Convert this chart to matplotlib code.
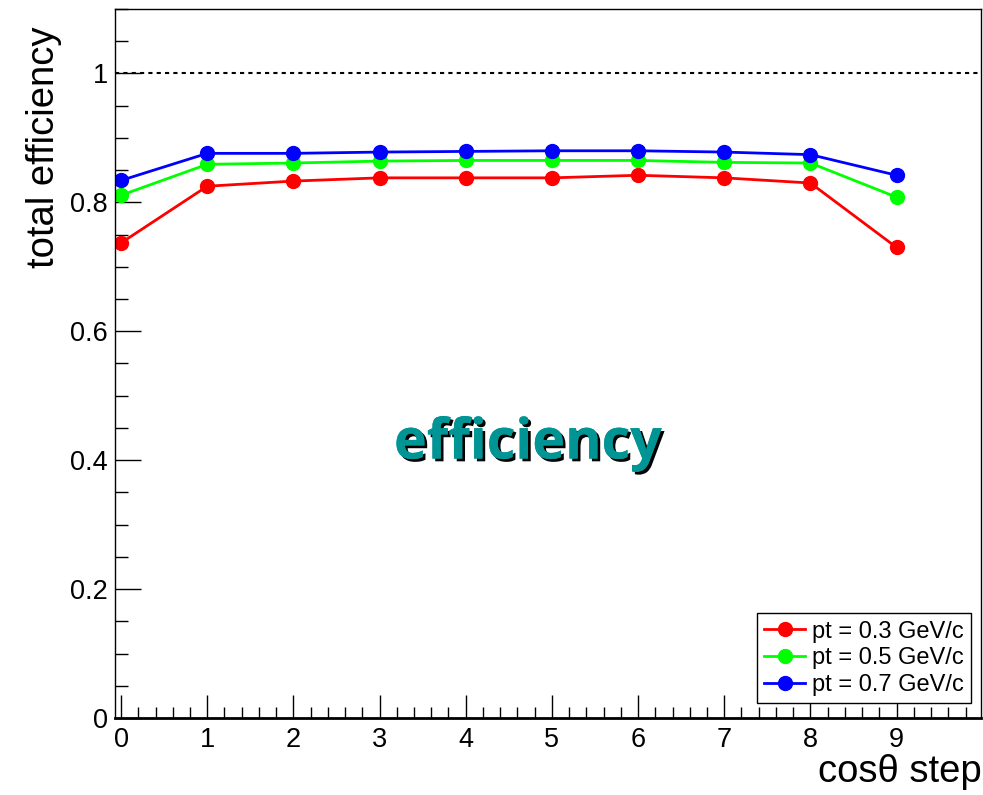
import matplotlib
matplotlib.use('Agg')
import matplotlib.pyplot as plt
import matplotlib.patheffects as pe
from matplotlib.ticker import MultipleLocator

plt.rcParams['font.family'] = ['Liberation Sans', 'DejaVu Sans']

steps = [0, 1, 2, 3, 4, 5, 6, 7, 8, 9]
eff_pt03 = [0.737, 0.825, 0.833, 0.838, 0.838, 0.838, 0.842, 0.838, 0.830, 0.730]
eff_pt05 = [0.811, 0.859, 0.861, 0.864, 0.865, 0.865, 0.865, 0.862, 0.861, 0.808]
eff_pt07 = [0.834, 0.876, 0.876, 0.878, 0.879, 0.880, 0.880, 0.878, 0.874, 0.842]
labels = ['pt = 0.3 GeV/c', 'pt = 0.5 GeV/c', 'pt = 0.7 GeV/c']
colors = ['#ff0000', '#00ff00', '#0000ff']

fig = plt.figure(figsize=(9.83, 7.95), dpi=100)
ax = fig.add_axes([0.117, 0.0969, 0.881, 0.8918])

for ys, lab, c in zip([eff_pt03, eff_pt05, eff_pt07], labels, colors):
    ax.plot(steps, ys, color=c, lw=2, marker='o', ms=10, label=lab)

ax.axhline(1.0, color='black', ls=(0, (2, 2)), lw=1.5)

ax.set_xlim(-0.07, 9.98)
ax.set_ylim(0, 1.1)
ax.xaxis.set_major_locator(MultipleLocator(1))
ax.xaxis.set_minor_locator(MultipleLocator(0.2))
ax.yaxis.set_minor_locator(MultipleLocator(0.05))
ax.set_yticks([0, 0.2, 0.4, 0.6, 0.8, 1.0])
ax.set_yticklabels(['0', '0.2', '0.4', '0.6', '0.8', '1'])
ax.tick_params(axis='both', which='both', direction='in', width=1)
ax.tick_params(axis='y', which='major', length=19, pad=5, labelsize=19.5)
ax.tick_params(axis='y', which='minor', length=9.5)
ax.tick_params(axis='x', which='major', length=16.5, pad=6.5, labelsize=19.5)
ax.tick_params(axis='x', which='minor', length=8)
for s in ax.spines.values():
    s.set_linewidth(1)
ax.spines['bottom'].set_linewidth(2)

# axis titles placed like ROOT does (top / right aligned)
fig.text(44 / 983, 1 - 27 / 795, 'total efficiency', fontsize=27.5, rotation=90,
         ha='center', va='top')
fig.text(982 / 983, 1 - 782 / 795, 'cosθ step', fontsize=27.5, ha='right', va='baseline')

ax.text(4.72, 0.425, 'efficiency', fontsize=40, fontweight='bold', color='#009494',
        ha='center', va='center', family=['Open Sans', 'DejaVu Sans'],
        path_effects=[pe.withSimplePatchShadow(offset=(2, -2), shadow_rgbFace='black', alpha=1),
                      pe.Normal()])

leg = ax.legend(loc='lower right', bbox_to_anchor=(0.988, 0.021), fontsize=17,
                frameon=True, fancybox=False, edgecolor='black', framealpha=1,
                handlelength=1.7, handletextpad=0.3, borderpad=0.3, labelspacing=0.2,
                borderaxespad=0)
leg.get_frame().set_linewidth(1)

fig.savefig('out.png', dpi=100)
